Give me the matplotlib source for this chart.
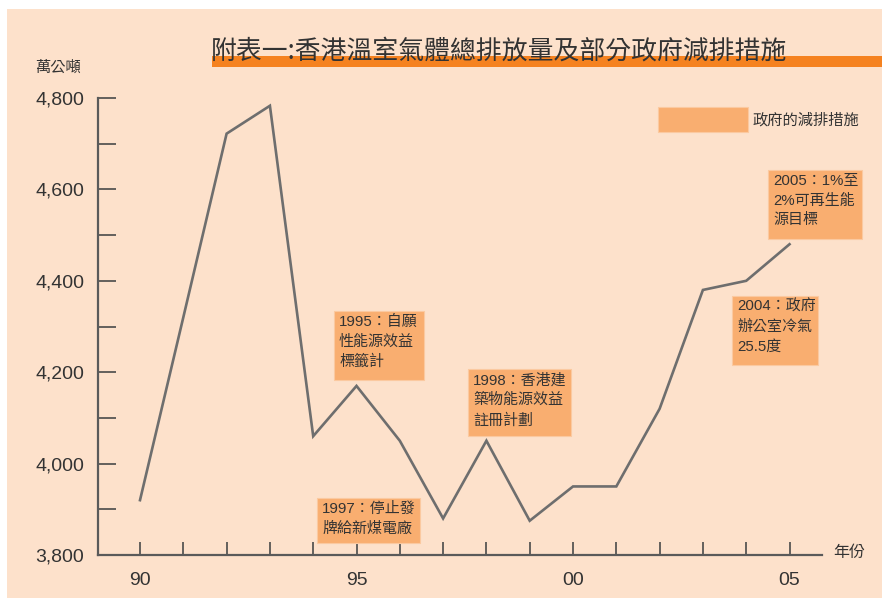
import matplotlib
matplotlib.use("Agg")
import matplotlib.pyplot as plt
from matplotlib.patches import Rectangle

plt.rcParams['font.family'] = ['Liberation Sans', 'Noto Sans CJK TC', 'DejaVu Sans']

# 數據
years = list(range(1990, 2006))
emission = [3920, 4320, 4722, 4783, 4060, 4170, 4050, 3880,
            4050, 3875, 3950, 3950, 4120, 4380, 4400, 4480]
xlabels = {1990: '90', 1995: '95', 2000: '00', 2005: '05'}
yticks_major = [3800, 4000, 4200, 4400, 4600, 4800]
yticks_minor = [3900, 4100, 4300, 4500, 4700]

title = '附表一:香港溫室氣體總排放量及部分政府減排措施'
legend_label = '政府的減排措施'
notes = [
    '1995：自願\n性能源效益\n標籤計',
    '1997：停止發\n牌給新煤電廠',
    '1998：香港建\n築物能源效益\n註冊計劃',
    '2005：1%至\n2%可再生能\n源目標',
    '2004：政府\n辦公室冷氣\n25.5度',
]

bg = '#FDE1CB'
box_c = '#F9AE70'
bar_c = '#F58220'
line_c = '#6E6E6E'
txt_c = '#333333'

W, H = 882, 608
def fx(x):
    return x / W
def fy(y):
    return 1 - y / H

fig = plt.figure(figsize=(8.82, 6.08), dpi=100, facecolor='white')
# 底色
fig.patches.append(Rectangle((fx(7), fy(598)), 1 - fx(7), fy(9) - fy(598),
                             transform=fig.transFigure, fc=bg, ec='none', zorder=-2))
# 標題橙條
fig.patches.append(Rectangle((fx(212), fy(67)), 1 - fx(212), fy(56) - fy(67),
                             transform=fig.transFigure, fc=bar_c, ec='none', zorder=-1))
fig.text(fx(211), fy(51), title, fontsize=18.6, color=txt_c, va='center', ha='left',
         family=['Noto Sans CJK TC'], zorder=3)

ax = fig.add_axes([fx(98), fy(555), fx(822) - fx(98), fy(98) - fy(555)])
ax.set_zorder(1)
ax.set_facecolor('none')
ax.plot(years, emission, color=line_c, lw=1.9, zorder=2, solid_joinstyle='miter')

ax.set_xlim(1989.03, 2005.75)
ax.set_ylim(3800, 4800)
ax.set_xticks(years)
ax.set_xticklabels([xlabels.get(y, '') for y in years])
ax.set_yticks(yticks_major)
ax.set_yticklabels([f'{v:,}' for v in yticks_major])
ax.set_yticks(yticks_minor, minor=True)

for s in ['top', 'right']:
    ax.spines[s].set_visible(False)
for s in ['left', 'bottom']:
    ax.spines[s].set_color('#5A5A5A')
    ax.spines[s].set_linewidth(1.6)

ax.tick_params(axis='x', direction='in', length=9.5, width=1.2, color='#4A4A4A',
               pad=12, labelsize=14, labelcolor=txt_c)
ax.tick_params(axis='y', which='both', direction='in', length=13, width=1.2,
               color='#4A4A4A', pad=10, labelsize=14, labelcolor=txt_c)

fig.text(fx(58), fy(68), '萬公噸', fontsize=11, color=txt_c, ha='center', va='center')
fig.text(fx(849), fy(553), '年份', fontsize=11.5, color=txt_c, ha='center', va='center')

# 圖例
fig.patches.append(Rectangle((fx(658), fy(132)), fx(748) - fx(658), fy(107) - fy(132),
                             transform=fig.transFigure, fc=box_c, ec='#FBC9A0', lw=0.8, zorder=2))
fig.text(fx(753), fy(120), legend_label, fontsize=11, color=txt_c, ha='left', va='center')

# 註解方塊 (left, top, right, bottom)
boxes = [(334, 311, 424, 380), (317, 498, 420, 543), (468, 369, 571, 436),
         (768, 170, 862, 239), (732, 296, 818, 365)]
for (l, t, r, b), s in zip(boxes, notes):
    fig.patches.append(Rectangle((fx(l), fy(b)), fx(r) - fx(l), fy(t) - fy(b),
                                 transform=fig.transFigure, fc=box_c, ec='#FBC9A0',
                                 lw=0.8, zorder=2))
    fig.text(fx(l + 5), fy(t + 4), s, fontsize=10.8, color=txt_c, ha='left', va='top',
             linespacing=1.5, zorder=3)

fig.savefig('out.png', dpi=100, facecolor='white')
